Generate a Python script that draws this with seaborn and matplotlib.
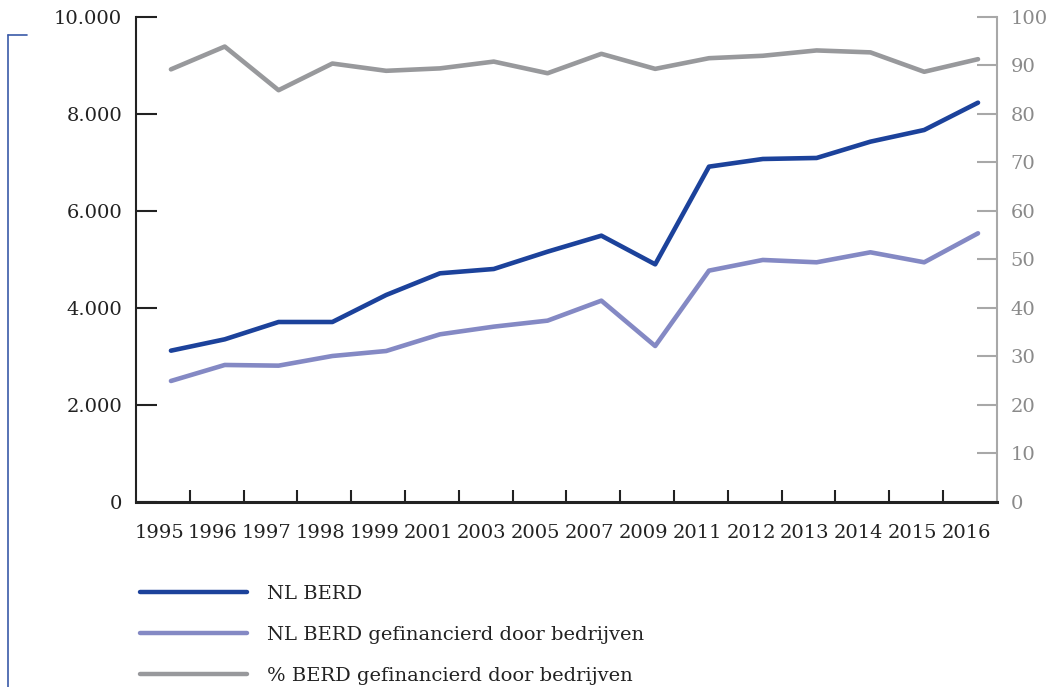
import numpy as np
import pandas as pd
import seaborn as sns
import matplotlib.pyplot as plt
from matplotlib.lines import Line2D
from matplotlib.ticker import FuncFormatter, FixedLocator

# ================= data =================
years = ['1995', '1996', '1997', '1998', '1999', '2001', '2003', '2005',
         '2007', '2009', '2011', '2012', '2013', '2014', '2015', '2016']
nl_berd = [3120, 3354, 3711, 3711, 4268, 4715, 4804, 5161,
           5491, 4900, 6914, 7072, 7093, 7429, 7670, 8233]
nl_berd_bedr = [2495, 2825, 2811, 3010, 3113, 3457, 3615, 3739,
                4151, 3216, 4770, 4990, 4942, 5148, 4942, 5540]
pct_bedr = [89.2, 93.9, 84.9, 90.4, 88.9, 89.4, 90.8, 88.4,
            92.4, 89.3, 91.5, 92.0, 93.1, 92.7, 88.7, 91.3]

labels = ['NL BERD', 'NL BERD gefinancierd door bedrijven',
          '% BERD gefinancierd door bedrijven']
colors = ['#1c429b', '#8489c4', '#98999c']

df = pd.DataFrame({'pos': np.arange(len(years)), 'jaar': years,
                   'berd': nl_berd, 'bedr': nl_berd_bedr, 'pct': pct_bedr})

# ================= style =================
sns.set_style('ticks')
plt.rcParams['font.family'] = ['DejaVu Serif']
fs = 14

fig = plt.figure(figsize=(10.46, 6.87), dpi=100)
ax = fig.add_axes([0.130, 0.2693, 0.823, 0.7060])
ax2 = ax.twinx()

lw = 3.3
sns.lineplot(data=df, x='pos', y='berd', ax=ax, color=colors[0], lw=lw,
             solid_capstyle='round', zorder=3)
sns.lineplot(data=df, x='pos', y='bedr', ax=ax, color=colors[1], lw=lw,
             solid_capstyle='round', zorder=3)
sns.lineplot(data=df, x='pos', y='pct', ax=ax2, color=colors[2], lw=lw,
             solid_capstyle='round', zorder=3)

# axes ranges
ax.set_ylim(0, 10000)
ax2.set_ylim(0, 100)
ax.set_xlim(-0.65, len(years) - 0.65)
ax.set_yticks(np.arange(0, 10001, 2000))
ax2.set_yticks(np.arange(0, 101, 10))
ax.yaxis.set_major_formatter(FuncFormatter(lambda v, p: f'{v:,.0f}'.replace(',', '.')))

# x ticks: labels between boundary ticks
n = len(years)
ax.xaxis.set_major_locator(FixedLocator(np.arange(n) - 0.22))
ax.set_xticklabels(years)
ax.xaxis.set_minor_locator(FixedLocator(np.arange(n - 1) + 0.35))
ax.tick_params(axis='x', which='major', length=0, pad=16, labelsize=fs, labelcolor='#222222')
ax.tick_params(axis='x', which='minor', direction='in', length=8.5, width=1.5, color='#222222')
ax.tick_params(axis='y', direction='in', length=15, width=1.5, color='#222222',
               pad=10, labelsize=fs, labelcolor='#222222')
ax2.tick_params(axis='y', direction='in', length=14.5, width=1.5, color='#a8a8a8',
                pad=10, labelsize=fs, labelcolor='#8a8a8a')

ax.set_xlabel('')
ax.set_ylabel('')
ax2.set_ylabel('')

for a in (ax, ax2):
    a.spines['top'].set_visible(False)
ax.spines['right'].set_visible(False)
ax.spines['left'].set_linewidth(1.5)
ax.spines['left'].set_color('#222222')
ax.spines['bottom'].set_linewidth(2.2)
ax.spines['bottom'].set_color('#222222')
ax2.spines['left'].set_visible(False)
ax2.spines['bottom'].set_visible(False)
ax2.spines['right'].set_linewidth(1.5)
ax2.spines['right'].set_color('#a8a8a8')
ax.set_zorder(ax2.get_zorder() + 1)
ax.patch.set_visible(False)

# legend below the chart
handles = [Line2D([0], [0], color=c, lw=3.2, solid_capstyle='round') for c in colors]
fig.legend(handles, labels, loc='upper left', bbox_to_anchor=(0.134, 0.149),
           frameon=False, fontsize=fs, handlelength=5.5, handletextpad=1.0,
           labelspacing=1.2, borderpad=0, borderaxespad=0, labelcolor='#222222')

# blue bracket at the left edge
fig.add_artist(Line2D([0.0077, 0.0077], [0.949, 0.0], color='#3a5aa8', lw=1.2))
fig.add_artist(Line2D([0.0077, 0.026], [0.949, 0.949], color='#3a5aa8', lw=1.2))

fig.savefig('out.png', dpi=100)
